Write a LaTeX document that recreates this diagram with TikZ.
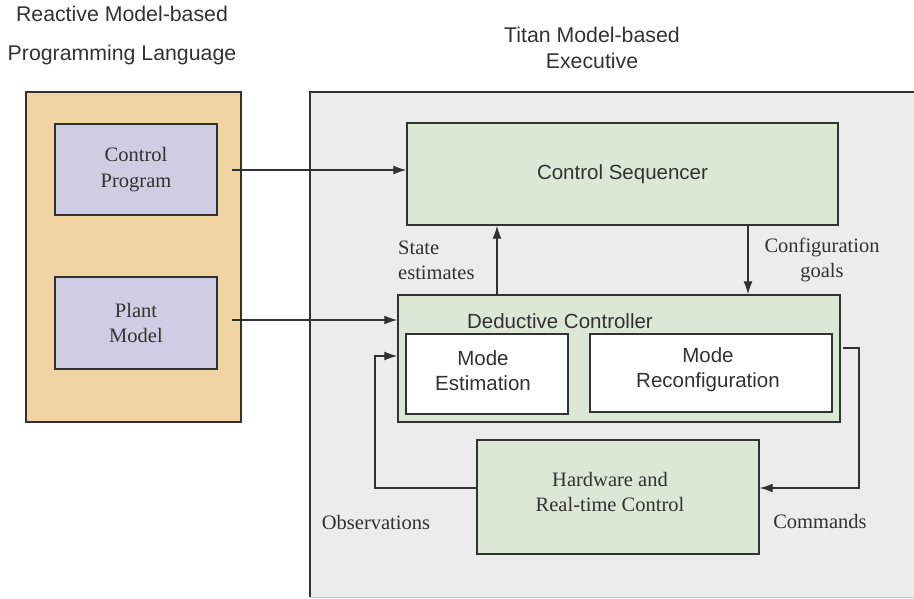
\documentclass[tikz,border=0pt]{standalone}
\usepackage{fontspec}
\setmainfont{Liberation Serif}
\setsansfont{Liberation Sans}
\usetikzlibrary{arrows.meta}

\definecolor{lineclr}{RGB}{50,50,50}
\definecolor{langfill}{RGB}{240,212,164}
\definecolor{progfill}{RGB}{208,204,227}
\definecolor{execfill}{RGB}{236,236,236}
\definecolor{greenfill}{RGB}{220,231,214}
\definecolor{edgelight}{RGB}{200,200,200}

\tikzset{
  box/.style={draw=lineclr, line width=1.4pt, inner sep=0pt, align=center, text=lineclr},
  serifbox/.style={box, font=\fontsize{20.5}{25.5}\selectfont\rmfamily},
  sansbox/.style={box, font=\fontsize{20.5}{24.5}\selectfont\sffamily},
  seriflabel/.style={inner sep=0pt, text=lineclr, font=\fontsize{20.5}{25.5}\selectfont\rmfamily},
  sanslabel/.style={inner sep=0pt, text=lineclr, font=\fontsize{20.5}{25}\selectfont\sffamily},
  headlabel/.style={inner sep=0pt, text=lineclr, font=\fontsize{21.3}{26}\selectfont\sffamily},
  conn/.style={draw=lineclr, line width=1.3pt},
  arr/.style={conn, -{Latex[length=13pt,width=9pt]}}
}

\begin{document}
\begin{tikzpicture}[x=1pt,y=-1pt]
\useasboundingbox (0,0) rectangle (914,598);

% outer frames
\node[box, fill=langfill, minimum width=215pt, minimum height=330pt] (lang) at (133.5,257) {};
\node[fill=execfill, inner sep=0pt, minimum width=608pt, minimum height=505pt] (exec) at (614,344.5) {};
\draw[conn, line width=1.4pt] (exec.south west) -- (exec.north west) -- (exec.north east);
\draw[draw=edgelight, line width=1.4pt] (exec.south west) -- (exec.south east);

% headings
\node[headlabel] (head1) at (122,14) {Reactive Model-based};
\node[headlabel] (head2) at (122,55) {Programming Language};
\node[headlabel, align=center] (head3) at (592,48) {Titan Model-based\\Executive};

% language components
\node[serifbox, fill=progfill, minimum width=162pt, minimum height=91pt] (prog) at (136,169.5) {Control\\Program};
\node[serifbox, fill=progfill, minimum width=162pt, minimum height=92pt] (plant) at (136,323) {Plant\\Model};

% executive components
\node[sansbox, fill=greenfill, minimum width=431pt, minimum height=102pt] (seq) at (622.5,174) {Control Sequencer};
\node[box, fill=greenfill, minimum width=442pt, minimum height=127pt] (dc) at (619,358.5) {};
\node[sanslabel] (dclabel) at (560,321) {Deductive Controller};
\node[sansbox, fill=white, minimum width=162pt, minimum height=80pt] (me) at (487,374) {};
\node[sanslabel, align=center] (metext) at (483,371) {Mode\\Estimation};
\node[sansbox, fill=white, minimum width=242pt, minimum height=78pt] (mr) at (711,373) {};
\node[sanslabel, align=center] (mrtext) at (708,370) {Mode\\Reconfiguration};
\node[serifbox, fill=greenfill, minimum width=282pt, minimum height=114pt] (hw) at (618,497) {};
\node[seriflabel, align=center] (hwtext) at (610,492) {Hardware and\\Real-time Control};

% connector end points
\coordinate (progout) at (232,170);
\coordinate (plantout) at (232,320);
\coordinate (upx) at (497,0);
\coordinate (downx) at (748,0);
\coordinate (cmdout) at (843,348);
\coordinate (cmdx) at (859,488);
\coordinate (obsx) at (375,488);
\coordinate (obsin) at (375,356);

% connectors
\draw[arr] (progout) -- (progout -| seq.west);
\draw[arr] (plantout) -- (plantout -| dc.west);
\draw[arr] (upx |- dc.north) -- (upx |- seq.south);
\draw[arr] (downx |- seq.south) -- (downx |- dc.north);
\draw[arr] (cmdout) -- (cmdout -| cmdx) -- (cmdx) -- (cmdx -| hw.east);
\draw[arr] (obsx -| hw.west) -- (obsx) -- (obsin) -- (obsin -| dc.west);

% connector labels
\node[seriflabel, align=left, anchor=west] (selabel) at (398,260.5) {State\\estimates};
\node[seriflabel, align=center] (cglabel) at (822,260) {Configuration\\goals};
\node[seriflabel] (cmdlabel) at (820,521) {Commands};
\node[seriflabel] (obslabel) at (376,522) {Observations};
\end{tikzpicture}
\end{document}
